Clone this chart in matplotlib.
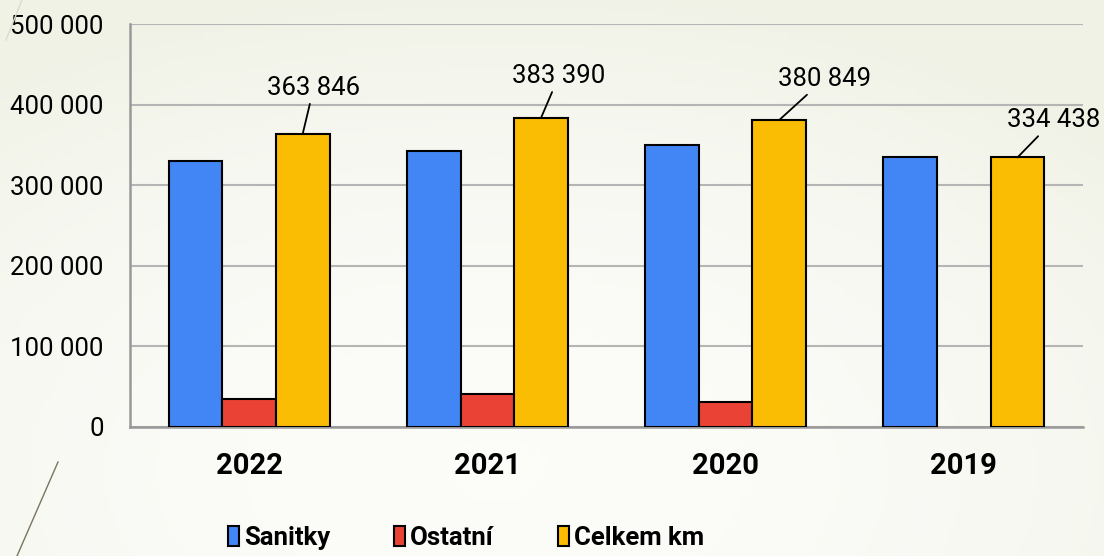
import numpy as np
import matplotlib
matplotlib.use("Agg")
import matplotlib.pyplot as plt
from matplotlib.lines import Line2D
from matplotlib.ticker import FuncFormatter

plt.rcParams["font.family"] = ["Roboto", "DejaVu Sans"]

# --- data ---
roky = ["2022", "2021", "2020", "2019"]
sanitky = [329500, 343000, 350000, 334438]
ostatni = [34346, 40390, 30849, 0]
celkem = [363846, 383390, 380849, 334438]
serie = ["Sanitky", "Ostatní", "Celkem km"]

barvy = ["#4285f4", "#ea4335", "#fbbc04"]
# posun popisku (px) vuci vrcholu zlute sloupce
posun_popisku = [(11, 46), (18, 42), (45, 41), (36, 37)]

fig = plt.figure(figsize=(11.04, 5.56), dpi=100)
fig.patch.set_facecolor("#f3f5ec")

# jemny prechod pozadi
bg = fig.add_axes([0, 0, 1, 1], zorder=-10)
xx, yy = np.meshgrid(np.linspace(0, 1, 200), np.linspace(0, 1, 100))
grad = np.clip(1 - ((xx - 0.45) ** 2 / 0.6 + (yy - 0.15) ** 2 / 0.8), 0, 1)
bg.imshow(grad, cmap=matplotlib.colors.LinearSegmentedColormap.from_list(
    "bg", ["#f0f2e6", "#fcfcf9"]), aspect="auto", extent=[0, 1, 0, 1], origin="lower")
bg.set_axis_off()

# dekorativni cary vlevo
fig.add_artist(Line2D([22 / 1104, 6 / 1104], [1, 1 - 40 / 556], transform=fig.transFigure,
                      color="#d9dccd", lw=1))
fig.add_artist(Line2D([58 / 1104, 17 / 1104], [1 - 462 / 556, 0], transform=fig.transFigure,
                      color="#7a7560", lw=1))

ax = fig.add_axes([130 / 1104, 1 - 427 / 556, 953 / 1104, 403 / 556])
ax.set_facecolor("none")

x = np.arange(len(roky))
w = 0.225
for i, (vals, c, name) in enumerate(zip([sanitky, ostatni, celkem], barvy, serie)):
    v = np.array(vals, dtype=float)
    mask = v > 0
    ax.bar(x[mask] + (i - 1) * w, v[mask], w, color=c, edgecolor="black", lw=1.5,
           label=name, zorder=3)

for i, val in enumerate(celkem):
    dx, dy = posun_popisku[i]
    ax.annotate(f"{val:,}".replace(",", " "), xy=(x[i] + w, val), xytext=(dx, dy),
                textcoords="offset pixels", ha="center", va="center", fontsize=18.5,
                color="black",
                arrowprops=dict(arrowstyle="-", color="black", lw=1.3, shrinkA=1, shrinkB=0))

ax.set_xlim(-0.5, len(roky) - 0.5)
ax.set_ylim(0, 500000)
ax.set_yticks(np.arange(0, 500001, 100000))
ax.yaxis.set_major_formatter(FuncFormatter(lambda v, p: f"{int(v):,}".replace(",", " ")))
ax.grid(axis="y", color="#b5b5b5", lw=1.5, zorder=0)
ax.set_xticks(x)
ax.set_xticklabels(roky, fontsize=21, fontweight="bold")
ax.tick_params(axis="x", length=0, pad=18)
ax.tick_params(axis="y", length=0, pad=19, labelsize=18.5)
for s in ["top", "right"]:
    ax.spines[s].set_visible(False)
for s in ["left", "bottom"]:
    ax.spines[s].set_color("#999999")
    ax.spines[s].set_linewidth(1.8)

leg = fig.legend(loc="center", bbox_to_anchor=(466 / 1104, 1 - 538 / 556), ncol=3,
                 frameon=False, prop=dict(size=18.5, weight="bold"), handlelength=0.42,
                 handleheight=0.8, handletextpad=0.2, columnspacing=2.5)
for h in leg.legend_handles:
    h.set_linewidth(1.5)

fig.savefig("out.png", dpi=100, facecolor=fig.get_facecolor())
